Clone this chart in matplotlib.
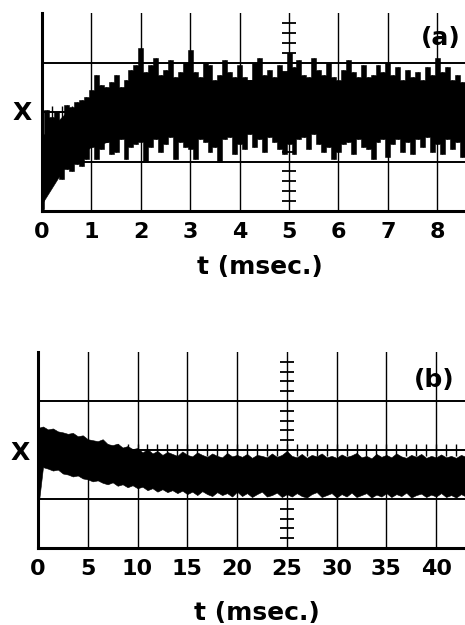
import numpy as np
import matplotlib
matplotlib.use("Agg")
import matplotlib.pyplot as plt

# trace (vertical units = graticule divisions, 0..4)
# upper / lower peak excursions every 0.1 msec (a) and 0.5 msec (b)
t_a = [round(0.1 * i, 1) for i in range(87)]
upper_a = [1.55, 2.05, 1.9, 2.0, 1.8, 2.15, 2.1, 2.2, 2.25, 2.3,
           2.45, 2.75, 2.55, 2.5, 2.6, 2.75, 2.5, 2.65, 2.85, 2.95,
           3.3, 2.8, 2.95, 3.1, 2.75, 2.85, 3.05, 2.7, 2.8, 3.0,
           3.25, 2.8, 2.7, 3.0, 2.95, 2.65, 2.75, 3.05, 2.8, 2.7,
           2.95, 2.7, 2.65, 3.0, 3.1, 2.75, 2.85, 2.7, 2.95, 2.8,
           3.2, 2.9, 3.05, 2.75, 2.7, 3.1, 2.85, 2.75, 3.0, 2.7,
           2.65, 2.85, 3.05, 2.8, 2.7, 2.95, 2.7, 2.75, 2.95, 2.8,
           3.0, 2.75, 2.9, 2.65, 2.85, 2.7, 2.8, 2.65, 2.9, 2.75,
           3.1, 2.8, 2.9, 2.65, 2.75, 2.6, 2.7]
lower_a = [0.05, 0.45, 0.6, 0.7, 0.65, 0.85, 0.8, 0.95, 0.9, 1.05,
           1.3, 1.05, 1.25, 1.4, 1.15, 1.2, 1.45, 1.05, 1.3, 1.35,
           1.4, 1.0, 1.3, 1.45, 1.2, 1.35, 1.5, 1.05, 1.4, 1.3,
           1.25, 1.05, 1.45, 1.4, 1.2, 1.3, 1.0, 1.45, 1.5, 1.15,
           1.35, 1.25, 1.55, 1.3, 1.45, 1.2, 1.5, 1.4, 1.25, 1.15,
           1.35, 1.15, 1.45, 1.5, 1.25, 1.55, 1.35, 1.2, 1.3, 1.05,
           1.2, 1.35, 1.4, 1.15, 1.45, 1.3, 1.25, 1.05, 1.4, 1.45,
           1.1, 1.35, 1.45, 1.2, 1.4, 1.15, 1.45, 1.3, 1.5, 1.2,
           1.35, 1.15, 1.45, 1.25, 1.4, 1.1, 1.3]

# solid body of the trace, every 0.5 msec
tc_a = [0, 0.5, 1, 1.5, 2, 2.5, 3, 3.5, 4, 4.5, 5, 5.5, 6, 6.5, 7, 7.5, 8, 8.6]
core_hi_a = [1.5, 2.0, 2.3, 2.45, 2.6, 2.65, 2.65, 2.6, 2.65, 2.65,
             2.7, 2.65, 2.6, 2.6, 2.6, 2.55, 2.6, 2.55]
core_lo_a = [0.15, 0.95, 1.3, 1.45, 1.55, 1.55, 1.5, 1.55, 1.55, 1.6,
             1.55, 1.6, 1.5, 1.55, 1.55, 1.6, 1.55, 1.5]

t_b = [0.5 * i for i in range(87)]
upper_b = [2.45,
           2.48, 2.42, 2.44, 2.38, 2.36, 2.33, 2.35, 2.28, 2.3, 2.22,
           2.2, 2.18, 2.22, 2.12, 2.1, 2.13, 2.05, 2.08, 2.02, 2.04,
           1.95, 2.02, 1.93, 1.98, 1.9, 1.96, 1.92, 1.88, 1.97, 1.9,
           1.87, 1.95, 1.9, 1.86, 1.93, 1.88, 1.85, 1.94, 1.87, 1.9,
           1.86, 1.92, 1.84, 1.9, 1.88, 1.85, 1.93, 1.86, 1.9, 1.98,
           1.88, 1.85, 1.92, 1.84, 1.9, 1.87, 1.93, 1.85, 1.88, 1.84,
           1.91, 1.86, 1.89, 1.94, 1.85, 1.88, 1.83, 1.92, 1.86, 1.9,
           1.85, 1.93, 1.87, 1.84, 1.9, 1.86, 1.92, 1.84, 1.88, 1.85,
           1.91, 1.85, 1.88, 1.84, 1.9, 1.86]
lower_b = [0.78,
           1.65, 1.62, 1.58, 1.6, 1.52, 1.5, 1.46, 1.48, 1.42, 1.4,
           1.36, 1.38, 1.33, 1.3, 1.34, 1.27, 1.3, 1.24, 1.28, 1.22,
           1.25, 1.18, 1.22, 1.15, 1.2, 1.14, 1.18, 1.12, 1.17, 1.1,
           1.15, 1.08, 1.16, 1.1, 1.06, 1.14, 1.08, 1.12, 1.05, 1.15,
           1.06, 1.12, 1.04, 1.1, 1.15, 1.05, 1.08, 1.13, 1.04, 1.1,
           1.05, 1.12, 1.06, 1.03, 1.1, 1.14, 1.04, 1.08, 1.12, 1.03,
           1.1, 1.05, 1.13, 1.04, 1.08, 1.12, 1.03, 1.09, 1.05, 1.12,
           1.04, 1.1, 1.06, 1.13, 1.03, 1.08, 1.11, 1.04, 1.09, 1.05,
           1.12, 1.04, 1.08, 1.03, 1.1, 1.05]

ticks_a = list(range(0, 9))
ticks_b = list(range(0, 45, 5))

plt.rcParams['font.family'] = ['DejaVu Sans']

fig = plt.figure(figsize=(4.65, 6.25), dpi=100)


# graticule, axes and labels of one scope panel
def graticule(ax, ticks, xmax, tick_step, xtick_len):
    ax.set_xlim(0, xmax)
    ax.set_ylim(0, 4)
    for x in ticks[1:]:
        ax.axvline(x, color='black', lw=1.0, zorder=1)
    for y in (1, 2, 3):
        ax.axhline(y, color='black', lw=1.4, zorder=1)
    # graticule marks on the centre lines
    xc = ticks[5]
    ys = [y for y in np.arange(0.2, 4.0, 0.2) if abs(y - round(y)) > 0.05]
    ax.hlines(ys, xc - xtick_len, xc + xtick_len, color='black', lw=1.3, zorder=1)
    xs = list(np.arange(tick_step, xmax, tick_step))
    ax.vlines(xs, 2 - 0.12, 2 + 0.12, color='black', lw=1.0, zorder=1)
    for s in ('top', 'right'):
        ax.spines[s].set_visible(False)
    ax.spines['left'].set_linewidth(2.2)
    ax.spines['bottom'].set_linewidth(2.2)
    ax.set_yticks([])
    ax.set_xticks(ticks)
    ax.set_xticklabels([str(v) for v in ticks], fontsize=16, fontweight='bold')
    ax.tick_params(axis='x', length=0, pad=8)


ax_a = fig.add_axes([42 / 465, (625 - 211) / 625, (465 - 42) / 465, 198 / 625])
graticule(ax_a, ticks_a, 8.56, 0.2, 0.14)
ax_a.fill_between(tc_a, core_lo_a, core_hi_a, color='black', lw=0.4, zorder=2)
ax_a.fill_between(t_a, lower_a, upper_a, step='mid', color='black', lw=0.4, zorder=2)
ax_a.vlines(t_a, lower_a, upper_a, color='black', lw=1.0, zorder=2)

ax_b = fig.add_axes([38 / 465, (625 - 548) / 625, (465 - 38) / 465, 196 / 625])
graticule(ax_b, ticks_b, 42.9, 1.0, 0.7)
ax_b.fill_between(t_b, lower_b, upper_b, color='black', lw=0.4, zorder=2)

kw = dict(fontsize=18, fontweight='bold', ha='center', va='center')
fig.text(22 / 465, 1 - 113 / 625, 'X', **kw)
fig.text(20 / 465, 1 - 453 / 625, 'X', **kw)
fig.text(441 / 465, 1 - 38 / 625, '(a)', **kw)
fig.text(434 / 465, 1 - 380 / 625, '(b)', **kw)
fig.text(260 / 465, 1 - 267 / 625, 't (msec.)', **kw)
fig.text(257 / 465, 1 - 613 / 625, 't (msec.)', **kw)

fig.savefig('out.png', dpi=100)
